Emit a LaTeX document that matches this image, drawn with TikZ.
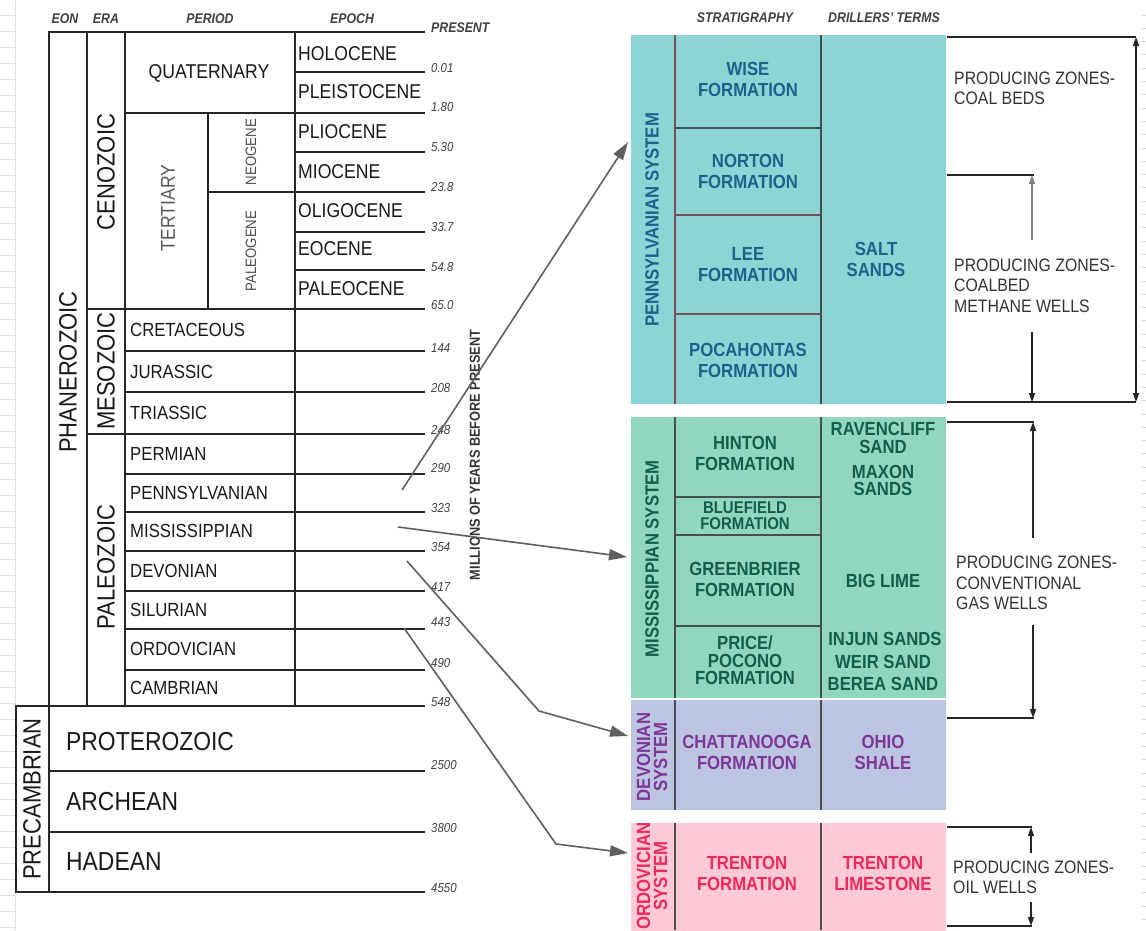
\documentclass[tikz,border=0pt]{standalone}
\usepackage{fontspec}
\setmainfont[FakeStretch=0.88]{Liberation Sans}
\usetikzlibrary{arrows.meta}
\definecolor{pennfill}{RGB}{141,212,212}
\definecolor{missfill}{RGB}{145,215,192}
\definecolor{devfill}{RGB}{188,196,226}
\definecolor{ordfill}{RGB}{255,202,213}
\definecolor{penntxt}{RGB}{35,95,140}
\definecolor{misstxt}{RGB}{20,95,75}
\definecolor{devtxt}{RGB}{125,55,150}
\definecolor{ordtxt}{RGB}{235,40,95}
\definecolor{pennline}{RGB}{120,80,80}
\definecolor{missline}{RGB}{70,80,80}
\definecolor{arrowgray}{RGB}{95,95,95}
\newcommand\fsz[1]{\fontsize{#1}{#1}\selectfont}
\begin{document}
\begin{tikzpicture}[x=1pt,y=-1pt,
  ln/.style={line width=1.8pt, black!85, line cap=rect},
  hdr/.style={font=\fsz{14}\bfseries\itshape, text=black!75, inner sep=0},
  num/.style={font=\fsz{13}\itshape, text=black!75, anchor=west, inner sep=0},
  eonlbl/.style={font=\fsz{25}, rotate=90, inner sep=0, text=black!90},
  perlbl/.style={font=\fsz{19}, anchor=west, inner sep=0, text=black!90},
  epolbl/.style={font=\fsz{20}, anchor=west, inner sep=0, text=black!90},
  prelbl/.style={font=\fsz{26}, anchor=west, inner sep=0, text=black!90},
  subper/.style={font=\fsz{15}, rotate=90, inner sep=0, text=black!70},
  block/.style={anchor=north west, inner sep=0, outer sep=0, draw=none},
  form/.style={font=\fontsize{19}{21}\selectfont\bfseries, align=center, inner sep=0},
  sys/.style={font=\fontsize{19}{17}\selectfont\bfseries, align=center, rotate=90, inner sep=0},
  zone/.style={font=\fontsize{18}{20.5}\selectfont, align=left, anchor=west, inner sep=0, text=black!80},
  conn/.style={line width=1.6pt, arrowgray, -{Triangle[length=18pt,width=11pt]}},
  brk/.style={line width=1.8pt, black!85},
  brkarrow/.style={line width=1.6pt, black!85, -{Triangle[length=9pt,width=6pt]}},
]
\useasboundingbox (0,0) rectangle (1146,930);
\fill[white] (0,0) rectangle (1146,930);

% faint spreadsheet grid at edges
\draw[gray!25, line width=1pt] (15,0) -- (15,930);
\foreach \k in {0,...,57} \draw[gray!25, line width=1pt] (0,15+16*\k) -- (15,15+16*\k);
\foreach \k in {0,...,69} \draw[gray!30, line width=1pt] (1141,15+13.3*\k) -- (1146,15+13.3*\k);

% ---------- headers ----------
\node[hdr] (hEon) at (65,19) {EON};
\node[hdr] (hEra) at (106,19) {ERA};
\node[hdr] (hPeriod) at (210,19) {PERIOD};
\node[hdr] (hEpoch) at (352,19) {EPOCH};
\node[hdr, anchor=west] (hPresent) at (431,28) {PRESENT};
\node[hdr] (hStrat) at (745,18) {STRATIGRAPHY};
\node[hdr] (hDrill) at (884,18) {DRILLERS' TERMS};

% ---------- left time table ----------
\foreach \y/\x in {32/49, 72/295, 113/125, 152/295, 192/208, 232/295, 270/295,
  309/87, 351/125, 392/125, 434/87, 474/125, 512/125, 551/125, 591/125,
  629/125, 670/125, 706/16, 771/49, 832/49, 892/16}
  \draw[ln] (\x,\y) -- (424,\y);
\draw[ln] (49,32) -- (49,892);
\draw[ln] (87,32) -- (87,706);
\draw[ln] (125,32) -- (125,706);
\draw[ln] (295,32) -- (295,706);
\draw[ln] (208,113) -- (208,309);
\draw[ln] (16,706) -- (16,892);

% numbers
\foreach \y/\t [count=\i] in {68/0.01, 107/1.80, 147/5.30, 187/23.8, 227/33.7,
  267/54.8, 305/65.0, 348/144, 388/208, 430/248, 468/290, 508/323, 547/354,
  587/417, 622/443, 663/490, 702/548, 765/2500, 828/3800, 888/4550}
  \node[num] (num\i) at (431,\y) {\t};

% eons / eras
\node[eonlbl] (phan) at (68,372) {PHANEROZOIC};
\node[eonlbl] (precam) at (32,799) {PRECAMBRIAN};
\node[eonlbl] (ceno) at (106,172) {CENOZOIC};
\node[eonlbl] (meso) at (106,371) {MESOZOIC};
\node[eonlbl] (paleo) at (106,567) {PALEOZOIC};

% periods
\node[font=\fsz{20}, inner sep=0, text=black!90] (quat) at (209,73) {QUATERNARY};
\node[font=\fsz{20}, rotate=90, inner sep=0, text=black!65] (tert) at (168,208) {TERTIARY};
\node[subper] (neog) at (251,152) {NEOGENE};
\node[subper] (paleog) at (251,251) {PALEOGENE};
\node[perlbl] (cret) at (130,330) {CRETACEOUS};
\node[perlbl] (jur) at (130,372) {JURASSIC};
\node[perlbl] (tri) at (130,413) {TRIASSIC};
\node[perlbl] (perm) at (130,454) {PERMIAN};
\node[perlbl] (penn) at (130,493) {PENNSYLVANIAN};
\node[perlbl] (miss) at (130,531) {MISSISSIPPIAN};
\node[perlbl] (dev) at (130,571) {DEVONIAN};
\node[perlbl] (sil) at (130,610) {SILURIAN};
\node[perlbl] (ord) at (130,649) {ORDOVICIAN};
\node[perlbl] (camb) at (130,688) {CAMBRIAN};

% epochs
\node[epolbl] (holo) at (298,54) {HOLOCENE};
\node[epolbl] (pleis) at (298,92) {PLEISTOCENE};
\node[epolbl] (plio) at (298,132) {PLIOCENE};
\node[epolbl] (mio) at (298,172) {MIOCENE};
\node[epolbl] (oligo) at (298,211) {OLIGOCENE};
\node[epolbl] (eo) at (298,249) {EOCENE};
\node[epolbl] (paleoc) at (298,289) {PALEOCENE};

% precambrian eons
\node[prelbl] (prot) at (66,742) {PROTEROZOIC};
\node[prelbl] (arch) at (66,802) {ARCHEAN};
\node[prelbl] (had) at (66,862) {HADEAN};

% axis title
\node[font=\fsz{14.5}\bfseries, rotate=90, inner sep=0, text=black!80] (myears) at (475,455) {MILLIONS OF YEARS BEFORE PRESENT};

% ---------- right blocks ----------
\node[block, fill=pennfill, minimum width=315pt, minimum height=369pt] (pennBlk) at (631,35) {};
\node[block, fill=missfill, minimum width=315pt, minimum height=281pt] (missBlk) at (631,417) {};
\node[block, fill=devfill, minimum width=315pt, minimum height=110pt] (devBlk) at (631,700) {};
\node[block, fill=ordfill, minimum width=315pt, minimum height=110pt] (ordBlk) at (631,823) {};

% internal lines
\begin{scope}[line width=1.4pt, pennline]
\draw (675,35) -- (675,404);
\draw[missline] (821,35) -- (821,404);
\draw[missline] (675,128) -- (821,128);
\draw (675,215) -- (821,215);
\draw (675,314) -- (821,314);
\end{scope}
\begin{scope}[line width=1.4pt, missline]
\draw (675,417) -- (675,698);
\draw (821,417) -- (821,698);
\draw (675,497) -- (821,497);
\draw (675,535) -- (821,535);
\draw (675,626) -- (821,626);
\draw (675,700) -- (675,810);
\draw (821,700) -- (821,810);
\draw (675,823) -- (675,930);
\draw (821,823) -- (821,930);
\end{scope}

% Pennsylvanian texts
\node[sys, text=penntxt] (pennSys) at (652,220) {PENNSYLVANIAN SYSTEM};
\node[form, text=penntxt] (wise) at (748,79) {WISE\\FORMATION};
\node[form, text=penntxt] (norton) at (748,171.5) {NORTON\\FORMATION};
\node[form, text=penntxt] (lee) at (748,264.5) {LEE\\FORMATION};
\node[form, text=penntxt] (poca) at (748,360) {POCAHONTAS\\FORMATION};
\node[form, text=penntxt] (salt) at (876,259.5) {SALT\\SANDS};

% Mississippian texts
\node[sys, text=misstxt] (missSys) at (652,559) {MISSISSIPPIAN SYSTEM};
\node[form, text=misstxt] (hinton) at (745,453) {HINTON\\FORMATION};
\node[form, text=misstxt, font=\fontsize{17}{16}\selectfont\bfseries] (bluef) at (745,516) {BLUEFIELD\\FORMATION};
\node[form, text=misstxt] (greenb) at (745,579.5) {GREENBRIER\\FORMATION};
\node[form, text=misstxt, font=\fontsize{19}{17.5}\selectfont\bfseries] (price) at (745,660.5) {PRICE/\\POCONO\\FORMATION};
\node[form, text=misstxt, font=\fontsize{19}{18}\selectfont\bfseries] (raven) at (883,438) {RAVENCLIFF\\SAND};
\node[form, text=misstxt, font=\fontsize{19}{17}\selectfont\bfseries] (maxon) at (883,480.5) {MAXON\\SANDS};
\node[form, text=misstxt] (biglime) at (883,581) {BIG LIME};
\node[form, text=misstxt] (injun) at (885,639) {INJUN SANDS};
\node[form, text=misstxt] (weir) at (883,662) {WEIR SAND};
\node[form, text=misstxt] (berea) at (883,684) {BEREA SAND};

% Devonian texts
\node[sys, text=devtxt] (devSys) at (652,757) {DEVONIAN\\SYSTEM};
\node[form, text=devtxt] (chatt) at (747,752) {CHATTANOOGA\\FORMATION};
\node[form, text=devtxt] (ohio) at (883,752) {OHIO\\SHALE};

% Ordovician texts
\node[sys, text=ordtxt] (ordSys) at (652,876) {ORDOVICIAN\\SYSTEM};
\node[form, text=ordtxt] (trentonF) at (747,873) {TRENTON\\FORMATION};
\node[form, text=ordtxt] (trentonL) at (883,873) {TRENTON\\LIMESTONE};

% producing zones texts
\node[zone] (zCoal) at (954,88.5) {PRODUCING ZONES-\\COAL BEDS};
\node[zone] (zCbm) at (954,285.5) {PRODUCING ZONES-\\COALBED\\METHANE WELLS};
\node[zone] (zGas) at (956,583) {PRODUCING ZONES-\\CONVENTIONAL\\GAS WELLS};
\node[zone] (zOil) at (953,877.5) {PRODUCING ZONES-\\OIL WELLS};

% ---------- brackets ----------
\coordinate (b1t) at (1136,37);
\coordinate (b1b) at (1136,402);
\draw[brk] (947,37) -- (b1t);
\draw[brk] (947,402) -- (b1b);
\draw[line width=1.6pt, black!85, {Triangle[length=9pt,width=6pt]}-{Triangle[length=9pt,width=6pt]}] (b1t) -- (b1b);

\coordinate (b2t) at (1032,175);
\coordinate (b2s1) at (1032,240);
\coordinate (b2s2) at (1032,332);
\coordinate (b2b) at (1032,402);
\draw[brk] (947,175) -- (1034,175);
\draw[brkarrow, black!50] (b2s1) -- (b2t);
\draw[brkarrow] (b2s2) -- (b2b);

\coordinate (b3t) at (1033,422);
\coordinate (b3s1) at (1033,538);
\coordinate (b3s2) at (1033,625);
\coordinate (b3b) at (1033,718);
\draw[brk] (947,422) -- (1034,422);
\draw[brk] (947,718) -- (1034,718);
\draw[brkarrow] (b3s1) -- (b3t);
\draw[brkarrow] (b3s2) -- (b3b);

\coordinate (b4t) at (1031,827);
\coordinate (b4s1) at (1031,853);
\coordinate (b4s2) at (1031,902);
\coordinate (b4b) at (1031,926);
\draw[brk] (947,827) -- (1032,827);
\draw[brk] (947,926) -- (1032,926);
\draw[brkarrow] (b4s1) -- (b4t);
\draw[brkarrow] (b4s2) -- (b4b);

% ---------- connectors from periods to systems ----------
\coordinate (pennFrom) at (402,490);
\coordinate (pennTo) at (628,142);
\coordinate (missFrom) at (398,527);
\coordinate (missTo) at (627,557);
\coordinate (devFrom) at (407,561);
\coordinate (devBend) at (539,711);
\coordinate (devTo) at (628,736);
\coordinate (ordFrom) at (404,628);
\coordinate (ordBend) at (556,844);
\coordinate (ordTo) at (628,853);
\draw[conn] (pennFrom) -- (pennTo);
\draw[conn] (missFrom) -- (missTo);
\draw[conn] (devFrom) -- (devBend) -- (devTo);
\draw[conn] (ordFrom) -- (ordBend) -- (ordTo);
\end{tikzpicture}
\end{document}
